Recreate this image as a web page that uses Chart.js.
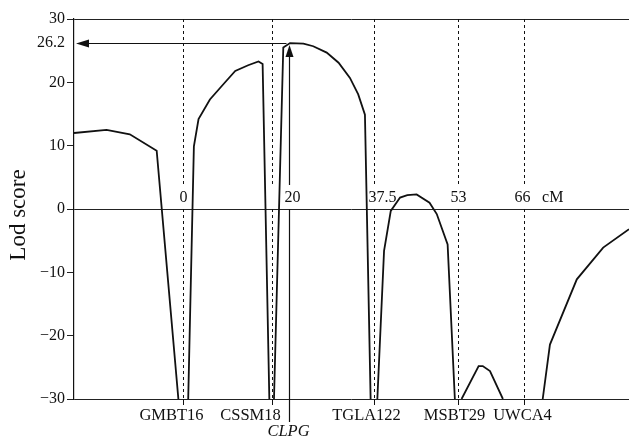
<!DOCTYPE html>
<html>
<head>
<meta charset="utf-8">
<script src="https://cdn.jsdelivr.net/npm/chart.js@4/dist/chart.umd.min.js"></script>
<style>
  html, body { margin: 0; padding: 0; background: #fff; }
  #wrap { width: 629px; height: 441px; }
</style>
</head>
<body>
<div id="wrap"><canvas id="lodChart"></canvas></div>
<script>
// map position (cM) and lod score (null = break along the -30 floor)
const positions = [-21.1, -14.8, -10.3, -5.1, -0.9, -0.5, 1.0, 2.1, 3.0, 5.2, 7.8, 10.1, 12.6, 14.6, 15.4, 16.7,
  17.1, 17.6, 19.4, 20.7, 23.3, 25.2, 27.8, 30.1, 32.3, 33.9, 35.2, 36.3,
  36.9, 37.6, 38.9, 40.2, 42.0, 43.4, 45.2, 47.7, 49.1, 51.2, 52.6,
  53.2, 53.9, 57.2, 58.0, 59.4, 61.9,
  65.0, 69.6, 71.0, 76.2, 81.3, 86.3];
const lodScores = [12.0, 12.5, 11.8, 9.2, -30, null, -30, 9.9, 14.2, 17.3, 19.7, 21.8, 22.7, 23.3, 22.9, -30,
  null, -30, 25.5, 26.2, 26.1, 25.7, 24.7, 23.1, 20.7, 18.1, 14.9, -30,
  null, -30, -6.6, -0.3, 1.8, 2.2, 2.3, 1.0, -0.8, -5.6, -30,
  null, -30, -24.8, -24.8, -25.6, -30,
  null, -30, -21.4, -11.1, -6.1, -3.2];

// markers along the map
const markerNames = ['GMBT16', 'CSSM18', 'CLPG', 'TGLA122', 'MSBT29', 'UWCA4'];
const markerPos = [0, 17.2, 20.5, 37.0, 53.2, 66.0];
const mapLabels = ['0', '', '20', '37.5', '53', '66'];
const yTicks = [-30, -20, -10, 0, 10, 20, 26.2, 30];
const peakLod = 26.2;

const SERIF = '"Liberation Serif", "DejaVu Serif", serif';

// dashed marker lines, labels, arrows
const markerPlugin = {
  id: 'markers',
  afterDatasetsDraw(chart) {
    const ctx = chart.ctx;
    const xs = chart.scales.x, ys = chart.scales.y;
    const top = chart.chartArea.top, bottom = chart.chartArea.bottom;
    const y0 = ys.getPixelForValue(0);
    const labelY = y0 - 11;
    const shift = [0, 0, 3, 8, 0, -2];        // map label nudges
    const nameShift = [-12, -22, 0, -8, -4, -2]; // marker name nudges
    ctx.save();
    ctx.strokeStyle = '#111';
    ctx.fillStyle = '#111';

    markerPos.forEach((p, i) => {
      const x = Math.round(xs.getPixelForValue(p)) + 0.5;
      if (markerNames[i] !== 'CLPG') {
        ctx.lineWidth = 1;
        ctx.setLineDash([3, 3]);
        ctx.beginPath();
        ctx.moveTo(x, top); ctx.lineTo(x, labelY - 14);
        ctx.moveTo(x, y0); ctx.lineTo(x, bottom);
        ctx.stroke();
        ctx.setLineDash([]);
        ctx.beginPath();
        ctx.moveTo(x, bottom); ctx.lineTo(x, bottom + 6);
        ctx.stroke();
        ctx.font = '16.5px ' + SERIF;
        ctx.textAlign = 'center';
        ctx.textBaseline = 'top';
        ctx.fillText(markerNames[i], x + nameShift[i], bottom + 8);
      } else {
        // solid arrow up to the peak
        const tipY = ys.getPixelForValue(peakLod) + 2;
        ctx.lineWidth = 1.2;
        ctx.beginPath();
        ctx.moveTo(x, bottom + 23); ctx.lineTo(x, y0);
        ctx.moveTo(x, labelY - 13); ctx.lineTo(x, tipY + 8);
        ctx.stroke();
        ctx.beginPath();
        ctx.moveTo(x, tipY); ctx.lineTo(x - 4, tipY + 12); ctx.lineTo(x + 4, tipY + 12);
        ctx.closePath(); ctx.fill();
        ctx.font = 'italic 16.5px ' + SERIF;
        ctx.textAlign = 'center';
        ctx.textBaseline = 'top';
        ctx.fillText(markerNames[i], x - 1, bottom + 24);

        // horizontal arrow to the axis
        const hy = Math.round(ys.getPixelForValue(peakLod)) + 0.5;
        const left = chart.chartArea.left;
        ctx.beginPath();
        ctx.moveTo(left + 12, hy); ctx.lineTo(x - 3, hy);
        ctx.stroke();
        ctx.beginPath();
        ctx.moveTo(left + 2, hy); ctx.lineTo(left + 15, hy - 4); ctx.lineTo(left + 15, hy + 4);
        ctx.closePath(); ctx.fill();
      }
      if (mapLabels[i]) {
        ctx.font = '16px ' + SERIF;
        ctx.textAlign = 'center';
        ctx.textBaseline = 'middle';
        ctx.fillText(mapLabels[i], x + shift[i], labelY);
      }
    });
    ctx.font = '16px ' + SERIF;
    ctx.textAlign = 'left';
    ctx.textBaseline = 'middle';
    ctx.fillText('cM', xs.getPixelForValue(markerPos[5]) + 18, labelY);

    // axis title
    ctx.translate(19, (top + bottom) / 2 + 6);
    ctx.rotate(-Math.PI / 2);
    ctx.font = '23px ' + SERIF;
    ctx.textAlign = 'center';
    ctx.textBaseline = 'middle';
    ctx.fillText('Lod score', 0, 0);
    ctx.restore();
  }
};

new Chart(document.getElementById('lodChart'), {
  type: 'line',
  data: {
    datasets: [{
      data: positions.map((p, i) => ({ x: p, y: lodScores[i] })),
      borderColor: '#111',
      borderWidth: 1.8,
      pointRadius: 0,
      tension: 0,
      spanGaps: false,
      fill: false
    }]
  },
  options: {
    responsive: true,
    maintainAspectRatio: false,
    animation: false,
    layout: { padding: { left: 0, right: 0, top: 19, bottom: 42 } },
    plugins: { legend: { display: false }, tooltip: { enabled: false } },
    scales: {
      x: {
        type: 'linear',
        min: -21.1,
        max: 86.3,
        display: false
      },
      y: {
        min: -30,
        max: 30,
        afterBuildTicks: (scale) => { scale.ticks = yTicks.map(v => ({ value: v })); },
        afterFit: (scale) => { scale.width = 74; },
        border: { display: true, color: '#111', width: 1.2 },
        grid: {
          drawOnChartArea: true,
          color: (c) => ([0, 30, -30].includes(c.tick && c.tick.value) ? '#222' : 'rgba(0,0,0,0)'),
          tickColor: (c) => (c.tick && c.tick.value === 26.2 ? 'rgba(0,0,0,0)' : '#222'),
          tickLength: 7,
          lineWidth: 1
        },
        ticks: {
          color: '#111',
          padding: 2,
          font: { family: SERIF, size: 16 },
          callback: (v) => (v < 0 ? '\u2212' + Math.abs(v) : String(v))
        }
      }
    }
  },
  plugins: [markerPlugin]
});
</script>
</body>
</html>
